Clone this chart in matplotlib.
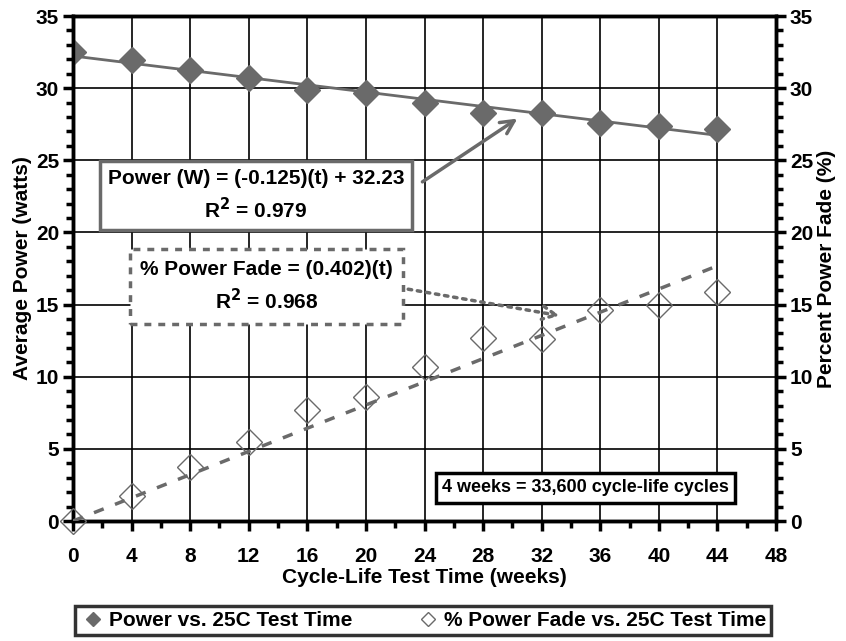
import numpy as np
from matplotlib import pyplot as plt
from matplotlib.ticker import MultipleLocator

plt.rcParams['font.family'] = ['Liberation Sans', 'DejaVu Sans']
plt.rcParams['font.weight'] = 'bold'

# data
weeks = [0, 4, 8, 12, 16, 20, 24, 28, 32, 36, 40, 44]
power = [32.5, 31.95, 31.25, 30.7, 29.9, 29.65, 28.95, 28.3, 28.3, 27.6, 27.4, 27.15]
fade = [0.0, 1.7, 3.75, 5.5, 7.7, 8.6, 10.7, 12.7, 12.6, 14.6, 15.0, 15.9]
fit_slope_p, fit_int_p = -0.125, 32.23
fit_slope_f = 0.402

grey = '#6a6a6a'
fs = 15

fig = plt.figure(figsize=(8.46, 6.41), dpi=100)
ax = fig.add_axes([0.0863, 0.1872, 0.8310, 0.7878])
ax2 = ax.twinx()

t = np.array([weeks[0], weeks[-1]])
ax.plot(t, fit_slope_p * t + fit_int_p, color=grey, lw=2, zorder=3)
ax2.plot(t, fit_slope_f * t, color=grey, lw=2.5, ls=(0, (3, 3.5)), zorder=3)

l1, = ax.plot(weeks, power, 'D', color=grey, markersize=13.5, zorder=4,
              label='Power vs. 25C Test Time')
l2, = ax2.plot(weeks, fade, 'D', mfc='none', mec=grey, mew=1, markersize=13.5,
               zorder=4, label='% Power Fade vs. 25C Test Time', clip_on=False)

for a in (ax, ax2):
    a.set_xlim(0, 48)
    a.set_ylim(0, 35)
    a.yaxis.set_major_locator(MultipleLocator(5))
    a.yaxis.set_minor_locator(MultipleLocator(1))
ax.xaxis.set_major_locator(MultipleLocator(4))
ax.xaxis.set_minor_locator(MultipleLocator(2))
ax.grid(True, which='major', color='black', lw=1.2)
ax.set_axisbelow(True)

for a in (ax, ax2):
    for s in a.spines.values():
        s.set_linewidth(2.5)
    a.tick_params(which='both', labelsize=fs, width=2.5, length=7, direction='out', pad=3)
    a.tick_params(which='minor', length=5)
ax.tick_params(axis='x', which='major', pad=12)

ax.set_xlabel('Cycle-Life Test Time (weeks)', fontsize=fs, fontweight='bold', labelpad=1)
ax.set_ylabel('Average Power (watts)', fontsize=fs, fontweight='bold', labelpad=3)
ax2.set_ylabel('Percent Power Fade (%)', fontsize=fs, fontweight='bold', labelpad=3)

# equation boxes
ax.text(12.5, 20.7, 'Power (W) = (-0.125)(t) + 32.23\nR$^2$ = 0.979', fontsize=fs,
        fontweight='bold', ha='center', va='bottom', linespacing=1.45, zorder=6,
        bbox=dict(boxstyle='square,pad=0.38', fc='white', ec=grey, lw=2.5))
ax.annotate('', xy=(30.5, 28.0), xytext=(23.7, 23.4),
            arrowprops=dict(arrowstyle='->', color=grey, lw=2.5, mutation_scale=24), zorder=6)

ax.text(13.2, 14.4, '% Power Fade = (0.402)(t)\nR$^2$ = 0.968', fontsize=fs,
        fontweight='bold', ha='center', va='bottom', linespacing=1.45, zorder=6,
        bbox=dict(boxstyle='square,pad=0.5', fc='white', ec=grey, lw=2.5, ls=(0, (2, 2))))
ax.annotate('', xy=(33.4, 14.2), xytext=(22.7, 16.1),
            arrowprops=dict(arrowstyle='->', color=grey, lw=2.5, ls=':', mutation_scale=24),
            zorder=6)

ax.text(35.0, 2.3, '4 weeks = 33,600 cycle-life cycles', fontsize=13, fontweight='bold',
        ha='center', va='center', zorder=6,
        bbox=dict(boxstyle='square,pad=0.35', fc='white', ec='black', lw=2.5))

leg = fig.legend(handles=[l1, l2], loc='center', bbox_to_anchor=(0.5, 0.032), ncol=2,
                 frameon=True, fancybox=False, handlelength=1.3,
                 handletextpad=0.1, columnspacing=3.0, markerscale=0.55,
                 borderpad=0.25, prop={'weight': 'bold', 'size': fs})
leg.get_frame().set_edgecolor('black')
leg.get_frame().set_linewidth(2.5)

fig.savefig('out.png', dpi=100)
